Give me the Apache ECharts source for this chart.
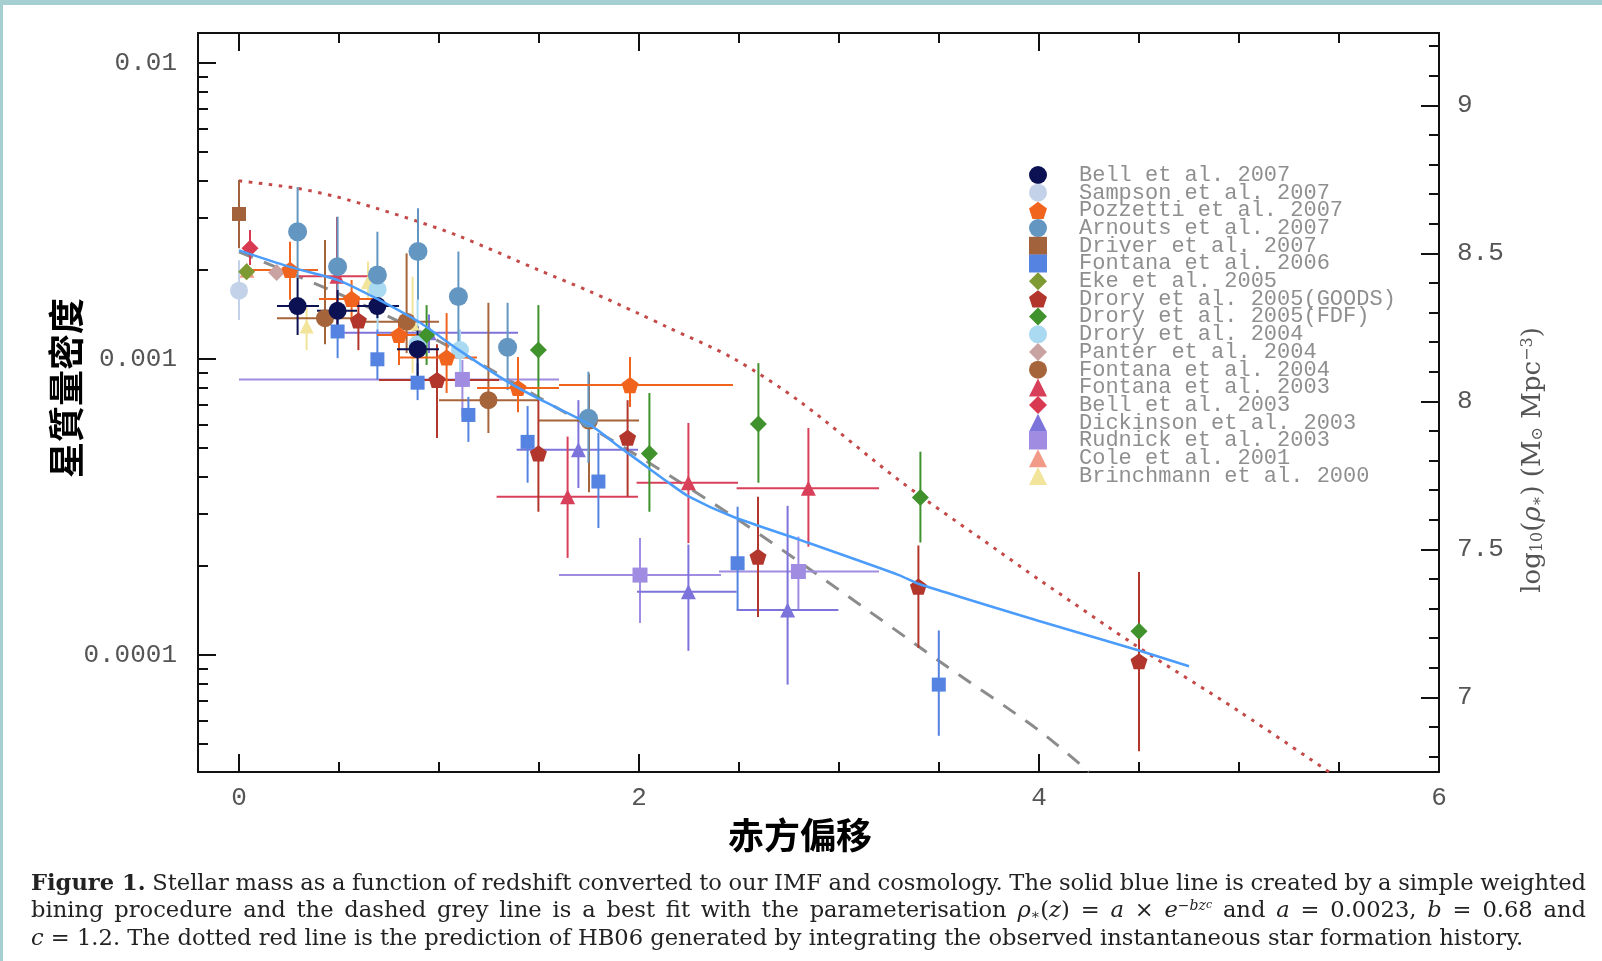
<!DOCTYPE html>
<html>
<head>
<meta charset="utf-8">
<script src="https://cdn.jsdelivr.net/npm/echarts@6/dist/echarts.min.js"></script>
<style>
  html, body { margin: 0; padding: 0; background: #a6cfd1; }
  #chart {
    width: 1602px; height: 961px;
    background:
      linear-gradient(#a6cfd1, #a6cfd1) top left / 100% 5px no-repeat,
      linear-gradient(#a6cfd1, #a6cfd1) top left / 3px 100% no-repeat,
      #ffffff;
  }
</style>
</head>
<body>
<div id="chart"></div>
<script>
// Stellar mass density vs redshift. Each row: [z, log10 density, zLo, zHi, logLo, logHi]
// (null = no error bar in that direction).
const bell2007 = [
  [0.293, -2.821, 0.19, 0.40, -2.726, -2.919],
  [0.493, -2.837, 0.39, 0.59, -2.767, -2.89],
  [0.692, -2.821, 0.59, 0.80, -2.777, -2.862],
  [0.893, -2.967, 0.79, 1.00, -2.89, -3.064]
];
const sampson2007 = [[0.0, -2.769, null, null, -2.666, -2.868]];
const pozzetti2007 = [
  [0.255, -2.699, 0.045, 0.395, -2.604, -2.80],
  [0.563, -2.797, 0.40, 0.70, -2.733, -2.874],
  [0.80, -2.919, 0.69, 0.955, -2.868, -3.02],
  [1.038, -2.995, 0.80, 1.19, -2.845, -3.115],
  [1.395, -3.098, 1.19, 1.60, -2.993, -3.18],
  [1.955, -3.088, 1.60, 2.47, -2.993, -3.162]
];
const arnouts2007 = [
  [0.293, -2.57, null, null, -2.419, -2.726],
  [0.493, -2.688, null, null, -2.519, -2.80],
  [0.692, -2.716, null, null, -2.57, -2.83],
  [0.895, -2.637, null, null, -2.491, -2.80],
  [1.097, -2.789, null, null, -2.637, -2.97],
  [1.343, -2.96, null, null, -2.81, -3.105],
  [1.747, -3.20, null, null, -3.043, -3.351]
];
const driver2007 = [[0.0, -2.51, null, null, -2.395, -2.626]];
const fontana2006 = [
  [0.493, -2.907, null, null, -2.851, -2.997],
  [0.692, -3.001, null, null, -2.90, -3.07],
  [0.893, -3.08, null, null, -3.014, -3.139],
  [1.147, -3.189, null, null, -3.128, -3.28],
  [1.443, -3.28, null, null, -3.159, -3.418],
  [1.797, -3.414, null, null, -3.25, -3.571],
  [2.493, -3.69, null, null, -3.499, -3.848],
  [3.499, -4.10, null, null, -3.917, -4.273]
];
const eke2005 = [[0.038, -2.705, null, null, -2.68, -2.73]];
const droryGoods2005 = [
  [0.597, -2.87, null, null, -2.79, -2.97],
  [0.99, -3.071, 0.70, 1.30, -2.95, -3.267],
  [1.497, -3.319, null, null, -3.139, -3.516],
  [1.943, -3.266, null, null, -3.139, -3.465],
  [2.595, -3.668, null, null, -3.465, -3.872],
  [3.397, -3.769, null, null, -3.63, -3.976],
  [4.50, -4.021, null, null, -3.72, -4.325]
];
const droryFdf2005 = [
  [0.938, -2.919, null, null, -2.818, -3.02],
  [1.497, -2.97, null, null, -2.818, -3.139],
  [2.052, -3.319, null, null, -3.115, -3.516],
  [2.597, -3.22, null, null, -3.014, -3.418],
  [3.407, -3.468, null, null, -3.313, -3.62],
  [4.50, -3.92, null, null, -3.85, -3.99]
];
const drory2004 = [
  [0.693, -2.765, null, null, -2.72, -2.90],
  [0.893, -2.95, null, null, -2.80, -3.08],
  [1.105, -2.97, null, null, -2.90, -3.05]
];
const panter2004 = [[0.188, -2.708, null, null, -2.69, -2.73]];
const fontana2004 = [
  [0.43, -2.862, 0.19, 0.60, -2.598, -2.95],
  [0.838, -2.874, 0.60, 1.00, -2.643, -2.98],
  [1.247, -3.139, 1.00, 1.50, -2.81, -3.25],
  [1.75, -3.208, 1.50, 2.00, -3.05, -3.45]
];
const fontana2003 = [
  [0.49, -2.72, 0.30, 0.65, -2.52, -2.92],
  [1.643, -3.465, 1.288, 1.995, -3.262, -3.672],
  [2.247, -3.418, 1.988, 2.495, -3.216, -3.622],
  [2.847, -3.437, 2.488, 3.20, -3.233, -3.634]
];
const bell2003 = [[0.055, -2.626, null, null, -2.564, -2.682]];
const dickinson2003 = [
  [0.95, -2.911, 0.49, 1.395, -2.85, -2.98],
  [1.697, -3.307, 1.388, 1.995, -3.139, -3.436],
  [2.247, -3.786, 1.99, 2.488, -3.627, -3.986],
  [2.743, -3.848, 2.488, 2.997, -3.496, -4.10]
];
const rudnick2003 = [
  [1.117, -3.069, 0.0, 1.60, -3.003, -3.195],
  [2.005, -3.73, 1.60, 2.41, -3.605, -3.892],
  [2.797, -3.718, 2.40, 3.20, -3.60, -3.85]
];
const cole2001 = [[0.04, -2.70, null, null, -2.68, -2.72]];
const brinchmann2000 = [
  [0.338, -2.89, null, null, -2.823, -2.97],
  [0.645, -2.74, null, null, -2.671, -2.80],
  [0.868, -2.88, null, null, -2.722, -3.048]
];

// Weighted-bin curve (solid blue)
const binnedZ   = [0, 0.25, 0.5, 0.7, 0.9, 1.1, 1.35, 1.5, 1.75, 1.9, 2.0, 2.14, 2.25, 2.47, 2.8, 3.3, 3.4, 4.0, 4.5, 4.75];
const binnedLog = [-2.633, -2.688, -2.735, -2.80, -2.875, -2.97, -3.08, -3.135, -3.22, -3.296, -3.345, -3.414, -3.465, -3.533, -3.61, -3.73, -3.76, -3.885, -3.985, -4.038];
// Parametric best fit (dashed grey)
const fitZ   = [0, 0.5, 1.0, 1.5, 2.0, 2.5, 3.0, 3.5, 4.0, 4.25];
const fitLog = [-2.638, -2.78, -2.94, -3.13, -3.33, -3.545, -3.78, -4.02, -4.255, -4.395];
// HB06 prediction (dotted red)
const hb06Z   = [0, 0.288, 0.488, 0.688, 0.897, 1.097, 1.497, 1.755, 1.997, 2.138, 2.472, 2.805, 3.305, 3.8, 4.0, 4.5, 5.0, 5.45];
const hb06Log = [-2.398, -2.423, -2.452, -2.491, -2.536, -2.584, -2.699, -2.772, -2.846, -2.891, -2.998, -3.144, -3.412, -3.65, -3.745, -3.975, -4.19, -4.395];

// Axis ticks and labels
const xMajorTicks = [0, 2, 4, 6];
const xMinorTicks = [0.5, 1, 1.5, 2.5, 3, 3.5, 4.5, 5, 5.5];
const yMajorLog = [-4, -3, -2];
const yMajorLabels = ['0.0001', '0.001', '0.01'];
const rightMajor = [7, 7.5, 8, 8.5, 9];
const rightMajorLabels = ['7', '7.5', '8', '8.5', '9'];

const Z_MIN = -0.205, Z_MAX = 6;
const LOG_MIN = -4.3953, LOG_MAX = -1.8986;
const RHO_OFFSET = 11.143; // log10 of the density unit in M_sun Mpc^-3

const PENTAGON = 'path://M0,-50 L47.55,-15.45 L29.39,40.45 L-29.39,40.45 L-47.55,-15.45 Z';

const surveys = [
  { name: 'Bell et al. 2007',          rows: bell2007,        color: '#0b1152', symbol: 'circle',   size: 18 },
  { name: 'Sampson et al. 2007',       rows: sampson2007,     color: '#c3d2e8', symbol: 'circle',   size: 18 },
  { name: 'Pozzetti et al. 2007',      rows: pozzetti2007,    color: '#f0641e', symbol: PENTAGON,   size: 17 },
  { name: 'Arnouts et al. 2007',       rows: arnouts2007,     color: '#6496c2', symbol: 'circle',   size: 19 },
  { name: 'Driver et al. 2007',        rows: driver2007,      color: '#a2633c', symbol: 'rect',     size: 14 },
  { name: 'Fontana et al. 2006',       rows: fontana2006,     color: '#5483e2', symbol: 'rect',     size: 14 },
  { name: 'Eke et al. 2005',           rows: eke2005,         color: '#7e9a32', symbol: 'diamond',  size: 17 },
  { name: 'Drory et al. 2005(GOODS)',  rows: droryGoods2005,  color: '#b2362c', symbol: PENTAGON,   size: 17 },
  { name: 'Drory et al. 2005(FDF)',    rows: droryFdf2005,    color: '#3f922c', symbol: 'diamond',  size: 17 },
  { name: 'Drory et al. 2004',         rows: drory2004,       color: '#a9daf2', symbol: 'circle',   size: 18 },
  { name: 'Panter et al. 2004',        rows: panter2004,      color: '#c9a2a2', symbol: 'diamond',  size: 17 },
  { name: 'Fontana et al. 2004',       rows: fontana2004,     color: '#a5643a', symbol: 'circle',   size: 18 },
  { name: 'Fontana et al. 2003',       rows: fontana2003,     color: '#d8405a', symbol: 'triangle', size: 15 },
  { name: 'Bell et al. 2003',          rows: bell2003,        color: '#d83a52', symbol: 'diamond',  size: 17 },
  { name: 'Dickinson et al. 2003',     rows: dickinson2003,   color: '#7c74da', symbol: 'triangle', size: 15 },
  { name: 'Rudnick et al. 2003',       rows: rudnick2003,     color: '#a08ce0', symbol: 'rect',     size: 15 },
  { name: 'Cole et al. 2001',          rows: cole2001,        color: '#f29a88', symbol: 'triangle', size: 15 },
  { name: 'Brinchmann et al. 2000',    rows: brinchmann2000,  color: '#f2e49a', symbol: 'triangle', size: 14 }
];

function minorLogTicks() {
  const out = [];
  for (let n = -5; n <= -2; n++) {
    for (let k = 2; k <= 9; k++) {
      const v = Math.log10(k * Math.pow(10, n));
      if (v >= LOG_MIN && v <= LOG_MAX) out.push(v);
    }
  }
  return out;
}
function minorRightTicks() {
  const out = [];
  for (let i = 68; i <= 92; i++) {
    if (i % 5 !== 0) out.push(i / 10);
  }
  return out;
}

function errorBars(rows) {
  return function (params, api) {
    const r = rows[params.dataIndex];
    const color = api.visual('color');
    const kids = [];
    if (r[4] != null) {
      const a = api.coord([r[0], r[4]]), b = api.coord([r[0], r[5]]);
      kids.push({ type: 'line', shape: { x1: a[0], y1: a[1], x2: b[0], y2: b[1] },
                  style: { stroke: color, lineWidth: 2 } });
    }
    if (r[2] != null) {
      const a = api.coord([r[2], r[1]]), b = api.coord([r[3], r[1]]);
      kids.push({ type: 'line', shape: { x1: a[0], y1: a[1], x2: b[0], y2: b[1] },
                  style: { stroke: color, lineWidth: 2 } });
    }
    return { type: 'group', children: kids };
  };
}

const series = [];
// Later entries of the list are drawn first so the first entries sit on top.
for (let i = surveys.length - 1; i >= 0; i--) {
  const s = surveys[i];
  series.push({
    type: 'scatter', name: s.name, z: 3, silent: true,
    symbol: s.symbol, symbolSize: s.size, symbolKeepAspect: true,
    itemStyle: { color: s.color, opacity: 1 },
    emphasis: { disabled: true },
    data: s.rows.map(r => [r[0], r[1]])
  });
  series.push({
    type: 'custom', name: s.name, z: 2, silent: true,
    itemStyle: { color: s.color },
    renderItem: errorBars(s.rows),
    encode: { x: 0, y: 1 },
    data: s.rows.map(r => [r[0], r[1]])
  });
}
series.push({
  type: 'line', z: 1, silent: true, showSymbol: false, smooth: 0.3,
  lineStyle: { color: '#8c8c8c', width: 3, type: [15, 12] },
  data: fitZ.map((z, i) => [z, fitLog[i]])
});
series.push({
  type: 'line', z: 1, silent: true, showSymbol: false, smooth: 0.3,
  lineStyle: { color: '#c44a4a', width: 3, type: [3.5, 6.5] },
  data: hb06Z.map((z, i) => [z, hb06Log[i]])
});
series.push({
  type: 'line', z: 5, silent: true, showSymbol: false, smooth: 0.25,
  lineStyle: { color: '#4b9cfb', width: 2.5 },
  data: binnedZ.map((z, i) => [z, binnedLog[i]])
});

const tickFont = { fontFamily: 'Liberation Mono', fontSize: 26, color: '#555' };
const tickLine = { color: '#111', width: 2 };

function xAxisDef(position, ticks, len, labels) {
  return {
    type: 'value', position, min: Z_MIN, max: Z_MAX,
    axisLine: { show: false, onZero: false }, splitLine: { show: false },
    axisTick: { show: true, inside: true, length: len, customValues: ticks, lineStyle: tickLine },
    axisLabel: labels
      ? Object.assign({ show: true, customValues: ticks, margin: 13, formatter: v => String(Math.round(v)) }, tickFont)
      : { show: false }
  };
}
function yAxisDef(position, min, max, ticks, len, labels, margin) {
  return {
    type: 'value', position, min, max,
    axisLine: { show: false, onZero: false }, splitLine: { show: false },
    axisTick: { show: true, inside: true, length: len, customValues: ticks, lineStyle: tickLine },
    axisLabel: labels
      ? Object.assign({ show: true, customValues: ticks, margin,
          formatter: v => {
            let best = 0;
            ticks.forEach((t, i) => { if (Math.abs(t - v) < Math.abs(ticks[best] - v)) best = i; });
            return labels[best];
          } }, tickFont)
      : { show: false }
  };
}

// ---- caption (justified like the typeset figure caption) ----
const capFont = 'DejaVu Serif';
const capSize = 22.6;
const capColor = '#222';
const capStyles = {
  n:    { fontSize: capSize },
  b:    { fontSize: capSize, fontWeight: 'bold' },
  i:    { fontSize: capSize, fontStyle: 'italic' },
  sub:  { fontSize: 14, verticalAlign: 'bottom' },
  sup:  { fontSize: 14, fontStyle: 'italic', verticalAlign: 'top' },
  sup2: { fontSize: 11, fontStyle: 'italic', verticalAlign: 'top' }
};
const captionLines = [
  [['Figure 1.', 'b'], [' Stellar mass as a function of redshift converted to our IMF and cosmology. The solid blue line is created by a simple weighted', 'n']],
  [['bining procedure and the dashed grey line is a best fit with the parameterisation ', 'n'], ['ρ', 'i'], ['∗', 'sub'], ['(', 'n'], ['z', 'i'],
   [') = ', 'n'], ['a', 'i'], [' × ', 'n'], ['e', 'i'], ['−bz', 'sup'], ['c', 'sup2'], [' and ', 'n'], ['a', 'i'],
   [' = 0.0023, ', 'n'], ['b', 'i'], [' = 0.68 and', 'n']],
  [['c', 'i'], [' = 1.2. The dotted red line is the prediction of HB06 generated by integrating the observed instantaneous star formation history.', 'n']]
];
const captionJustify = [true, true, false];
const captionY = [884, 911, 939];
const CAPTION_LEFT = 31, CAPTION_WIDTH = 1555;

const measureCtx = document.createElement('canvas').getContext('2d');
function cssFont(st) {
  return (st.fontStyle || 'normal') + ' ' + (st.fontWeight || 'normal') + ' ' + st.fontSize + 'px "' + capFont + '"';
}
function textWidth(t, st) { measureCtx.font = cssFont(st); return measureCtx.measureText(t).width; }

const capRich = {};
Object.keys(capStyles).forEach(k => {
  capRich[k] = Object.assign({ fontFamily: capFont, fill: capColor }, capStyles[k]);
});

function buildCaption(segs, justify, idx) {
  const total = segs.reduce((s, g) => s + textWidth(g[0], capStyles[g[1]]), 0);
  const nSpaces = segs.reduce((s, g) => s + (g[1] === 'n' ? (g[0].match(/ /g) || []).length : 0), 0);
  const spaceW = textWidth(' ', capStyles.n);
  const key = 'sp' + idx;
  capRich[key] = { fontFamily: capFont, fontSize: capSize, fill: capColor,
                   width: spaceW + (justify ? (CAPTION_WIDTH - total) / nSpaces : 0) };
  return segs.map(g => {
    if (g[1] === 'n') return g[0].split(' ').join('{' + key + '| }');
    return '{' + g[1] + '|' + g[0] + '}';
  }).join('');
}

const chart = echarts.init(document.getElementById('chart'), null, { renderer: 'canvas' });
chart.setOption({
  backgroundColor: 'transparent',
  animation: false,
  grid: {
    left: 198, top: 33, width: 1241, height: 739,
    show: true, borderColor: '#111', borderWidth: 2, backgroundColor: 'transparent',
    outerBoundsMode: 'none'
  },
  xAxis: [
    xAxisDef('bottom', xMajorTicks, 18, true),
    xAxisDef('bottom', xMinorTicks, 10, false),
    xAxisDef('top', xMajorTicks, 18, false),
    xAxisDef('top', xMinorTicks, 10, false)
  ],
  yAxis: [
    yAxisDef('left', LOG_MIN, LOG_MAX, yMajorLog, 18, yMajorLabels, 21),
    yAxisDef('left', LOG_MIN, LOG_MAX, minorLogTicks(), 10, null),
    yAxisDef('right', LOG_MIN + RHO_OFFSET, LOG_MAX + RHO_OFFSET, rightMajor, 18, rightMajorLabels, 18),
    yAxisDef('right', LOG_MIN + RHO_OFFSET, LOG_MAX + RHO_OFFSET, minorRightTicks(), 10, null)
  ],
  legend: {
    orient: 'vertical', left: 1029, top: 164, padding: 0,
    itemWidth: 18, itemHeight: 18, itemGap: -4.3,
    selectedMode: false, symbolKeepAspect: true,
    formatter: name => '{g| }' + name,
    textStyle: {
      fontFamily: 'Liberation Mono', fontSize: 22, color: '#8f8f8f',
      rich: { g: { width: 27, fontFamily: 'Liberation Mono', fontSize: 22 } }
    },
    data: surveys.map(s => ({ name: s.name, icon: s.symbol }))
  },
  graphic: [
    { type: 'text', x: 800, y: 835,
      style: { text: '赤方偏移', fontFamily: 'Noto Sans CJK TC', fontSize: 36, fontWeight: 'bold',
               fill: '#000', align: 'center', verticalAlign: 'middle' } },
    { type: 'text', x: 66, y: 388, rotation: Math.PI / 2,
      style: { text: '星質量密度', fontFamily: 'Noto Sans CJK TC', fontSize: 36, fontWeight: 'bold',
               fill: '#000', align: 'center', verticalAlign: 'middle' } },
    { type: 'text', x: 1533, y: 460, rotation: Math.PI / 2,
      style: { text: 'log{s|10}({i|ρ}{s|∗}) (M{s|⊙} Mpc{u|−3})', fontFamily: 'DejaVu Serif', fontSize: 26,
               fill: '#555', align: 'center', verticalAlign: 'middle',
               rich: {
                 s: { fontFamily: 'DejaVu Serif', fontSize: 16, fill: '#555', verticalAlign: 'bottom' },
                 u: { fontFamily: 'DejaVu Serif', fontSize: 16, fill: '#555', verticalAlign: 'top' },
                 i: { fontFamily: 'DejaVu Serif', fontSize: 26, fontStyle: 'italic', fill: '#555' }
               } } }
  ].concat(captionLines.map((segs, i) => ({
    type: 'text', x: CAPTION_LEFT, y: captionY[i],
    style: { text: buildCaption(segs, captionJustify[i], i), fontFamily: capFont, fontSize: capSize, fill: capColor,
             align: 'left', verticalAlign: 'middle', rich: capRich }
  }))),
  series
});
</script>
</body>
</html>
